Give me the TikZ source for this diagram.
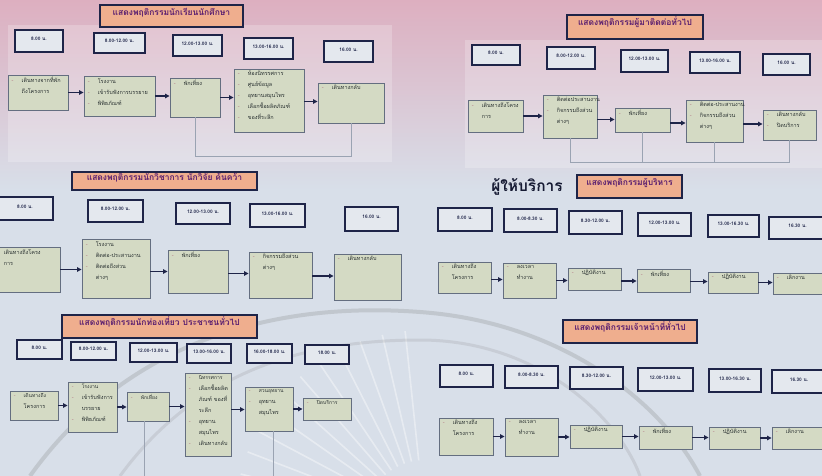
\documentclass[tikz,border=0pt]{standalone}
\usepackage{fontspec}
\setmainfont[Script=Thai]{Loma}
\usetikzlibrary{arrows.meta,fit}
\definecolor{navy}{HTML}{1E2448}
\definecolor{peach}{HTML}{EFAE8E}
\definecolor{purp}{HTML}{5A1F70}
\definecolor{sage}{HTML}{D4DAC4}
\definecolor{pborder}{HTML}{646E80}
\definecolor{tfill}{HTML}{E4E8EE}
\definecolor{bgblue}{HTML}{D8DFE9}
\definecolor{bgpink}{HTML}{DDAFC0}
\definecolor{linec}{HTML}{9AA3B2}
\definecolor{ptxt}{HTML}{2A3232}
\definecolor{bulc}{HTML}{B07080}
\newcommand\bu{\hspace{3pt}\makebox[10pt][l]{\textcolor{bulc}{-}}}
\newcommand\cn{\hspace{13pt}}
\newcommand\sm{\fontsize{5}{10.5}\selectfont}
\newcommand\TB[6]{\node[tbox, fit={(#2,#3) (#4,#5)}] (#1) {#6};}
\newcommand\PB[6]{\node[pbox, fit={(#2,#3) (#4,#5)}] (#1) {};
  \node[ptext] (#1t) at (#1.north west) {#6};}
\newcommand\TL[6]{\node[titlebox, fit={(#2,#3) (#4,#5)}] (#1) {#6};}
\begin{document}
\begin{tikzpicture}[x=1pt,y=-1pt,
  tbox/.style={draw=navy, line width=1.6pt, fill=tfill, inner sep=0pt,
    font=\fontsize{4.8}{5}\selectfont\bfseries, text=navy},
  pbox/.style={draw=pborder, line width=0.9pt, fill=sage, inner sep=0pt},
  ptext/.style={anchor=north west, inner sep=0pt, xshift=1pt, yshift=-2.5pt,
    align=left, font=\fontsize{5.5}{11}\selectfont, text=ptxt},
  titlebox/.style={draw=navy, line width=1.6pt, fill=peach, inner sep=0pt,
    font=\fontsize{8.5}{9}\selectfont\bfseries, text=purp},
  arr/.style={-{Triangle[length=4.5pt,width=4.5pt]}, line width=1.3pt, draw=navy},
  conn/.style={draw=linec, line width=0.7pt}]
\useasboundingbox (0,0) rectangle (822,476);
\clip (0,0) rectangle (822,476);
% background
\fill[bgblue] (0,0) rectangle (822,476);
\shade[top color=bgpink, bottom color=bgblue] (0,0) rectangle (822,190);
\fill[white, opacity=0.22] (8,25) rectangle (392,162);
\fill[white, opacity=0.22] (465,40) rectangle (822,168);
% watermark
\foreach \a in {96,103,...,170}
  \draw[white, opacity=0.4, line width=1.6pt] ({425+60*cos(\a)},{520-60*sin(\a)}) -- ({425+190*cos(\a)},{520-190*sin(\a)});
\draw[gray, opacity=0.25, line width=4pt] (30,476) .. controls (120,350) and (260,300) .. (420,312) .. controls (560,322) and (660,400) .. (700,476);
\draw[gray, opacity=0.18, line width=3pt] (120,476) .. controls (190,380) and (290,340) .. (420,340) .. controls (540,340) and (620,420) .. (640,476);

% ===== Section 1: students =====
\TL{t1}{100}{5}{243}{27}{แสดงพฤติกรรมนักเรียนนักศึกษา}
\TB{s1t1}{15}{30}{63}{52}{8.00 น.}
\TB{s1t2}{94}{33}{145}{53}{8.00-12.00 น.}
\TB{s1t3}{173}{35}{222}{56}{12.00-13.00 น.}
\TB{s1t4}{244}{38}{293}{59}{13.00-16.00 น.}
\TB{s1t5}{324}{41}{373}{62}{16.00 น.}
\PB{s1b1}{8}{75}{68}{110}{\bu เดินทางจากที่พัก\\\cn ถึงโครงการ}
\PB{s1b2}{84}{76}{155}{116}{\bu โรงงาน\\\bu เข้ารับฟังการบรรยาย\\\bu พิพิธภัณฑ์}
\PB{s1b3}{170}{78}{220}{117}{\bu พักเที่ยง}
\PB{s1b4}{234}{69}{304}{132}{\bu ห้องนิทรรศการ\\\bu ศูนย์ข้อมูล\\\bu อุทยานสมุนไพร\\\bu เลือกซื้อผลิตภัณฑ์\\\bu ของที่ระลึก}
\PB{s1b5}{318}{83}{384}{123}{\bu เดินทางกลับ}
\draw[arr] (s1b1.east) -- (s1b1.east -| s1b2.west);
\draw[arr] (s1b2.east) -- (s1b2.east -| s1b3.west);
\draw[arr] (s1b3.east) -- (s1b3.east -| s1b4.west);
\draw[arr] ([yshift=-1pt]s1b4.east) -- ([yshift=-1pt]s1b4.east -| s1b5.west);
\coordinate (s1c) at (0,156);
\draw[conn] (s1b3.south) -- (s1b3.south |- s1c) -- (s1b5.south |- s1c) -- (s1b5.south);

% ===== Section 2: general visitors =====
\TL{t2}{567}{15}{703}{39}{แสดงพฤติกรรมผู้มาติดต่อทั่วไป}
\TB{s2t1}{472}{45}{520}{65}{8.00 น.}
\TB{s2t2}{547}{47}{595}{69}{8.00-12.00 น.}
\TB{s2t3}{621}{50}{668}{72}{12.00-13.00 น.}
\TB{s2t4}{690}{52}{740}{73}{13.00-16.00 น.}
\TB{s2t5}{763}{54}{810}{75}{16.00 น.}
\PB{s2b1}{468}{100}{523}{132}{\bu เดินทางถึงโครง\\\cn การ}
\PB{s2b2}{543}{95}{597}{138}{\bu ติดต่อประสานงาน\\\bu กิจกรรมถึงส่วน\\\cn ต่างๆ}
\PB{s2b3}{615}{108}{670}{132}{\bu พักเที่ยง}
\PB{s2b4}{686}{100}{743}{142}{\bu ติดต่อ-ประสานงาน\\\bu กิจกรรมถึงส่วน\\\cn ต่างๆ}
\PB{s2b5}{763}{110}{816}{140}{\bu เดินทางกลับ\\\bu ปิดบริการ}
\draw[arr] (s2b1.east) -- (s2b1.east -| s2b2.west);
\draw[arr] ([yshift=-3pt]s2b2.east) -- ([yshift=-3pt]s2b2.east -| s2b3.west);
\draw[arr] ([yshift=-3pt]s2b3.east) -- ([yshift=-3pt]s2b3.east -| s2b4.west);
\draw[arr] ([yshift=-3pt]s2b4.east) -- ([yshift=-3pt]s2b4.east -| s2b5.west);
\coordinate (s2c) at (0,162);
\draw[conn] (s2b2.south) -- (s2b2.south |- s2c) -- (s2b5.south |- s2c) -- (s2b5.south);
\draw[conn] (s2b3.south) -- (s2b3.south |- s2c);
\draw[conn] (s2b4.south) -- (s2b4.south |- s2c);

% ===== Section 3: academics =====
\TL{t3}{72}{172}{257}{190}{แสดงพฤติกรรมนักวิชาการ นักวิจัย ค้นคว้า}
\TB{s3t1}{-3}{197}{53}{220}{8.00 น.}
\TB{s3t2}{88}{200}{143}{222}{8.00-12.00 น.}
\TB{s3t3}{176}{203}{230}{224}{12.00-13.00 น.}
\TB{s3t4}{250}{204}{305}{227}{13.00-16.00 น.}
\TB{s3t5}{345}{207}{398}{231}{16.00 น.}
\PB{s3b1}{-3}{247}{60}{292}{\hspace{6pt}เดินทางถึงโครง\\\hspace{6pt}การ}
\PB{s3b2}{82}{239}{150}{298}{\bu โรงงาน\\\bu ติดต่อ-ประสานงาน\\\bu ติดต่อถึงส่วน\\\cn ต่างๆ}
\PB{s3b3}{168}{250}{228}{293}{\bu พักเที่ยง}
\PB{s3b4}{249}{252}{312}{298}{\bu กิจกรรมถึงส่วน\\\cn ต่างๆ}
\PB{s3b5}{334}{254}{401}{300}{\bu เดินทางกลับ}
\draw[arr] (s3b1.east) -- (s3b1.east -| s3b2.west);
\draw[arr] ([yshift=-3pt]s3b2.east) -- ([yshift=-3pt]s3b2.east -| s3b3.west);
\draw[arr] ([yshift=-2pt]s3b3.east) -- ([yshift=-2pt]s3b3.east -| s3b4.west);
\draw[arr] ([yshift=-1pt]s3b4.east) -- ([yshift=-1pt]s3b4.east -| s3b5.west);

% ===== Section 4: executives =====
\node[font=\fontsize{15.5}{15.5}\selectfont\bfseries, text=navy!70!black, inner sep=0pt] (h4) at (527,187) {ผู้ให้บริการ};
\TL{t4}{577}{175}{682}{198}{แสดงพฤติกรรมผู้บริหาร}
\TB{s4t1}{438}{208}{492}{231}{8.00 น.}
\TB{s4t2}{504}{209}{557}{232}{8.00-8.30 น.}
\TB{s4t3}{569}{211}{622}{234}{8.30-12.00 น.}
\TB{s4t4}{638}{213}{691}{236}{12.00-13.00 น.}
\TB{s4t5}{708}{215}{759}{237}{13.00-16.30 น.}
\TB{s4t6}{769}{217}{826}{239}{16.30 น.}
\PB{s4b1}{438}{262}{491}{293}{\bu เดินทางถึง\\\cn โครงการ}
\PB{s4b2}{503}{263}{556}{298}{\bu ลงเวลา\\\cn ทำงาน}
\PB{s4b3}{568}{268}{621}{290}{\bu ปฏิบัติงาน}
\PB{s4b4}{637}{269}{690}{292}{\bu พักเที่ยง}
\PB{s4b5}{708}{272}{758}{293}{\bu ปฏิบัติงาน}
\PB{s4b6}{773}{273}{826}{294}{\bu เลิกงาน}
\draw[arr] ([yshift=-2pt]s4b1.east) -- ([yshift=-2pt]s4b1.east -| s4b2.west);
\draw[arr] (s4b2.east) -- (s4b2.east -| s4b3.west);
\draw[arr] ([yshift=-2pt]s4b3.east) -- ([yshift=-2pt]s4b3.east -| s4b4.west);
\draw[arr] ([yshift=-1pt]s4b4.east) -- ([yshift=-1pt]s4b4.east -| s4b5.west);
\draw[arr] (s4b5.east) -- (s4b5.east -| s4b6.west);

% ===== Section 5: tourists =====
\TL{t5}{62}{315}{257}{338}{แสดงพฤติกรรมนักท่องเที่ยว ประชาชนทั่วไป}
\TB{s5t1}{17}{340}{62}{359}{8.00 น.}
\TB{s5t2}{71}{342}{116}{360}{8.00-12.00 น.}
\TB{s5t3}{130}{343}{177}{362}{12.00-13.00 น.}
\TB{s5t4}{187}{344}{231}{363}{13.00-16.00 น.}
\TB{s5t5}{247}{344}{292}{363}{16.00-18.00 น.}
\TB{s5t6}{305}{345}{349}{364}{18.00 น.}
\PB{s5b1}{10}{391}{58}{420}{\sm\bu เดินทางถึง\\\cn โครงการ}
\PB{s5b2}{68}{382}{117}{432}{\sm\bu โรงงาน\\\bu เข้ารับฟังการ\\\cn บรรยาย\\\bu พิพิธภัณฑ์}
\PB{s5b3}{127}{392}{169}{421}{\sm\bu พักเที่ยง}
\PB{s5b4}{185}{373}{231}{456}{\sm\bu นิทรรศการ\\\bu เลือกซื้อผลิต\\\cn ภัณฑ์ ของที่\\\cn ระลึก\\\bu อุทยาน\\\cn สมุนไพร\\\bu เดินทางกลับ}
\PB{s5b5}{245}{387}{293}{431}{\sm\bu สวนอุทยาน\\\bu อุทยาน\\\cn สมุนไพร}
\PB{s5b6}{303}{398}{351}{420}{\sm\bu ปิดบริการ}
\draw[arr] (s5b1.east) -- (s5b1.east -| s5b2.west);
\draw[arr] (s5b2.east) -- (s5b2.east -| s5b3.west);
\draw[arr] (s5b3.east) -- (s5b3.east -| s5b4.west);
\draw[arr] ([yshift=5pt]s5b4.east) -- ([yshift=5pt]s5b4.east -| s5b5.west);
\draw[arr] (s5b5.east) -- (s5b5.east -| s5b6.west);
\coordinate (s5c) at (0,478);
\draw[conn] ([xshift=-4pt]s5b3.south) -- ([xshift=-4pt]s5b3.south |- s5c);
\draw[conn] ([xshift=4pt]s5b5.south) -- ([xshift=4pt]s5b5.south |- s5c);

% ===== Section 6: staff =====
\TL{t6}{563}{320}{697}{343}{แสดงพฤติกรรมเจ้าหน้าที่ทั่วไป}
\TB{s6t1}{440}{365}{493}{387}{8.00 น.}
\TB{s6t2}{505}{366}{558}{388}{8.00-8.30 น.}
\TB{s6t3}{570}{367}{623}{389}{8.30-12.00 น.}
\TB{s6t4}{638}{368}{693}{391}{12.00-13.00 น.}
\TB{s6t5}{709}{369}{761}{392}{13.00-16.30 น.}
\TB{s6t6}{772}{370}{826}{393}{16.30 น.}
\PB{s6b1}{439}{418}{493}{455}{\bu เดินทางถึง\\\cn โครงการ}
\PB{s6b2}{505}{418}{558}{456}{\bu ลงเวลา\\\cn ทำงาน}
\PB{s6b3}{570}{425}{622}{448}{\bu ปฏิบัติงาน}
\PB{s6b4}{639}{426}{692}{449}{\bu พักเที่ยง}
\PB{s6b5}{709}{427}{760}{449}{\bu ปฏิบัติงาน}
\PB{s6b6}{772}{427}{826}{449}{\bu เลิกงาน}
\draw[arr] (s6b1.east) -- (s6b1.east -| s6b2.west);
\draw[arr] (s6b2.east) -- (s6b2.east -| s6b3.west);
\draw[arr] (s6b3.east) -- (s6b3.east -| s6b4.west);
\draw[arr] (s6b4.east) -- (s6b4.east -| s6b5.west);
\draw[arr] (s6b5.east) -- (s6b5.east -| s6b6.west);
\end{tikzpicture}
\end{document}
